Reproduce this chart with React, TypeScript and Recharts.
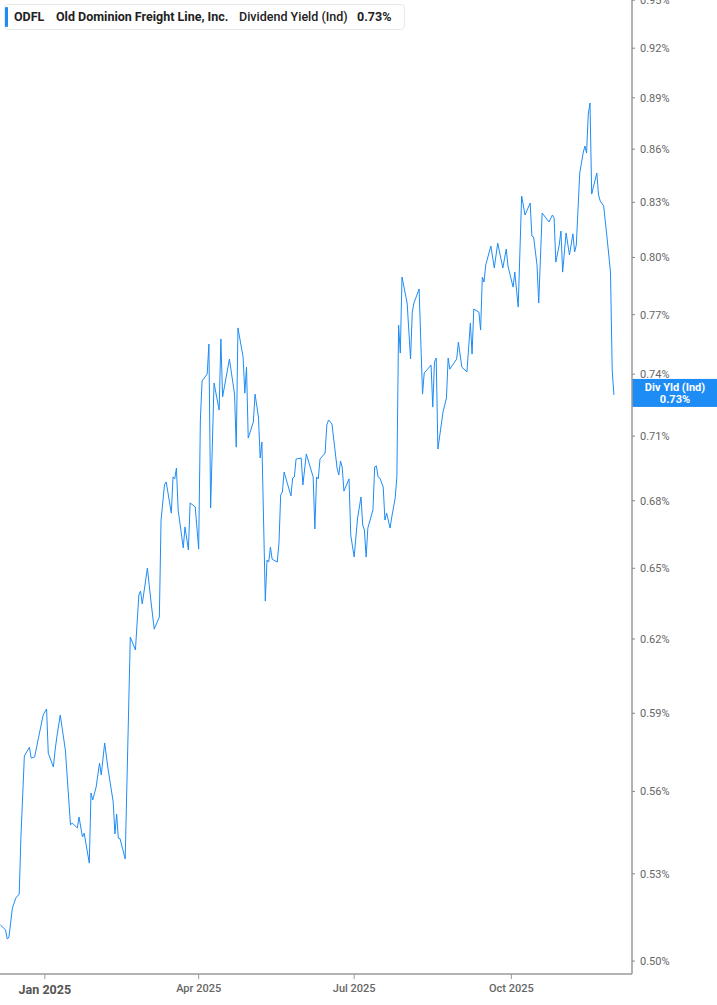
import React from 'react';
import { LineChart, Line, XAxis, YAxis, ReferenceLine } from 'recharts';

const dates: string[] = [
  '2024-12-06','2024-12-09','2024-12-10','2024-12-11','2024-12-13','2024-12-15','2024-12-17','2024-12-18','2024-12-20','2024-12-23',
  '2024-12-24','2024-12-26','2024-12-28','2024-12-31','2025-01-02','2025-01-03','2025-01-06','2025-01-07','2025-01-08','2025-01-10',
  '2025-01-13','2025-01-16','2025-01-17','2025-01-20','2025-01-21','2025-01-23','2025-01-24','2025-01-27','2025-01-28','2025-01-29',
  '2025-01-31','2025-02-02','2025-02-03','2025-02-05','2025-02-07','2025-02-10','2025-02-11','2025-02-12','2025-02-13','2025-02-14',
  '2025-02-17','2025-02-20','2025-02-23','2025-02-25','2025-02-26','2025-02-27','2025-03-02','2025-03-04','2025-03-06','2025-03-09',
  '2025-03-10','2025-03-12','2025-03-13','2025-03-16','2025-03-17','2025-03-18','2025-03-19','2025-03-20','2025-03-23','2025-03-24',
  '2025-03-26','2025-03-27','2025-03-30','2025-04-01','2025-04-02','2025-04-03','2025-04-06','2025-04-07','2025-04-08','2025-04-10',
  '2025-04-13','2025-04-14','2025-04-15','2025-04-19','2025-04-22','2025-04-23','2025-04-24','2025-04-27','2025-04-28','2025-04-29',
  '2025-04-30','2025-05-03','2025-05-04','2025-05-06','2025-05-07','2025-05-08','2025-05-10','2025-05-11','2025-05-12','2025-05-13',
  '2025-05-14','2025-05-17','2025-05-18','2025-05-19','2025-05-20','2025-05-21','2025-05-25','2025-05-26','2025-05-27','2025-05-28',
  '2025-05-31','2025-06-01','2025-06-03','2025-06-07','2025-06-08','2025-06-09','2025-06-10','2025-06-11','2025-06-14','2025-06-15',
  '2025-06-16','2025-06-18','2025-06-21','2025-06-22','2025-06-23','2025-06-24','2025-06-25','2025-06-28','2025-06-29','2025-07-01',
  '2025-07-03','2025-07-05','2025-07-06','2025-07-07','2025-07-08','2025-07-09','2025-07-12','2025-07-13','2025-07-14','2025-07-15',
  '2025-07-16','2025-07-18','2025-07-19','2025-07-20','2025-07-22','2025-07-23','2025-07-25','2025-07-26','2025-07-27','2025-07-28',
  '2025-07-29','2025-08-01','2025-08-03','2025-08-04','2025-08-05','2025-08-08','2025-08-10','2025-08-11','2025-08-13','2025-08-15',
  '2025-08-16','2025-08-17','2025-08-18','2025-08-19','2025-08-22','2025-08-23','2025-08-24','2025-08-25','2025-08-26','2025-08-30',
  '2025-08-31','2025-09-02','2025-09-05','2025-09-07','2025-09-08','2025-09-09','2025-09-12','2025-09-13','2025-09-14','2025-09-15',
  '2025-09-16','2025-09-19','2025-09-21','2025-09-23','2025-09-26','2025-09-28','2025-09-29','2025-10-02','2025-10-03','2025-10-05',
  '2025-10-07','2025-10-09','2025-10-12','2025-10-13','2025-10-14','2025-10-16','2025-10-17','2025-10-19','2025-10-23','2025-10-25',
  '2025-10-26','2025-10-27','2025-10-29','2025-10-30','2025-10-31','2025-11-02','2025-11-04','2025-11-06','2025-11-07','2025-11-08',
  '2025-11-10','2025-11-12','2025-11-13','2025-11-14','2025-11-15','2025-11-16','2025-11-17','2025-11-20','2025-11-21','2025-11-22',
  '2025-11-24','2025-11-26','2025-11-28','2025-11-29','2025-11-30',
];

const yields: number[] = [
  0.5122,0.5105,0.5074,0.5081,0.5180,0.5215,0.5229,0.5432,0.5734,0.5768,
  0.5726,0.5730,0.5795,0.5893,0.5917,0.5745,0.5692,0.5757,0.5807,0.5893,
  0.5757,0.5476,0.5483,0.5465,0.5505,0.5432,0.5446,0.5338,0.5594,0.5568,
  0.5616,0.5707,0.5662,0.5784,0.5684,0.5560,0.5443,0.5516,0.5428,0.5426,
  0.5353,0.6208,0.6155,0.6385,0.6402,0.6347,0.6501,0.6364,0.6241,0.6292,
  0.6713,0.6872,0.6886,0.6744,0.6909,0.6900,0.6950,0.6758,0.6589,0.6682,
  0.6580,0.6790,0.6772,0.6584,0.7177,0.7366,0.7401,0.7550,0.6767,0.7356,
  0.7225,0.7576,0.7288,0.7475,0.7302,0.7048,0.7632,0.7485,0.7307,0.7435,
  0.7091,0.7167,0.7302,0.7191,0.6997,0.7072,0.6359,0.6536,0.6527,0.6593,
  0.6540,0.6527,0.6611,0.6826,0.6840,0.6932,0.6822,0.6904,0.6909,0.6992,
  0.6997,0.6872,0.7016,0.6909,0.6673,0.6909,0.6900,0.6992,0.7020,0.7153,
  0.7177,0.7158,0.6950,0.6918,0.6983,0.6955,0.6844,0.6900,0.6646,0.6549,
  0.6722,0.6817,0.6691,0.6668,0.6549,0.6677,0.6758,0.6955,0.6960,0.6909,
  0.6904,0.6863,0.6713,0.6744,0.6677,0.6726,0.6812,0.6909,0.7647,0.7505,
  0.7896,0.7760,0.7475,0.7713,0.7760,0.7833,0.7302,0.7406,0.7425,0.7445,
  0.7239,0.7460,0.7480,0.7039,0.7215,0.7249,0.7283,0.7480,0.7425,0.7475,
  0.7560,0.7435,0.7411,0.7657,0.7500,0.7729,0.7713,0.7621,0.7896,0.7870,
  0.7960,0.8061,0.7944,0.8077,0.7944,0.8045,0.7954,0.7843,0.7922,0.7739,
  0.8335,0.8230,0.8296,0.8115,0.8110,0.7960,0.7760,0.8241,0.8192,0.8230,
  0.8214,0.7975,0.8067,0.8142,0.7922,0.8132,0.8013,0.8127,0.8029,0.8067,
  0.8464,0.8578,0.8618,0.8578,0.8804,0.8869,0.8346,0.8464,0.8341,0.8307,
  0.8280,0.8104,0.7922,0.7420,0.7298,
];

const yTicks: number[] = [0.5, 0.53, 0.56, 0.59, 0.62, 0.65, 0.68, 0.71, 0.74, 0.77, 0.8, 0.83, 0.86, 0.89, 0.92, 0.95];
const xTickDates: string[] = ['2025-01-01', '2025-04-01', '2025-07-01', '2025-10-01'];
const xTickLabels: string[] = ['Jan 2025', 'Apr 2025', 'Jul 2025', 'Oct 2025'];

const ticker = 'ODFL';
const company = 'Old Dominion Freight Line, Inc.';
const metric = 'Dividend Yield (Ind)';
const tagTitle = 'Div Yld (Ind)';

const toTs = (s: string) => {
  const [y, m, d] = s.split('-').map(Number);
  return Date.UTC(y, m - 1, d);
};

const data = dates.map((d, i) => ({ t: toTs(d), v: yields[i] }));
const xTickTs = xTickDates.map(toTs);
const lastValue = yields[yields.length - 1];
const fmt = (v: number) => v.toFixed(2) + '%';

const BLUE = '#1e8cf5';
const FONT = 'Roboto, "Noto Sans", sans-serif';
const HOUR = 3600 * 1000;

const XTick = (props: any) => {
  const { x, y, payload } = props;
  const i = xTickTs.indexOf(payload.value);
  const first = i === 0;
  return (
    <text
      x={x}
      y={y}
      dy={first ? 13 : 11}
      textAnchor="middle"
      fontFamily={FONT}
      fontSize={first ? 12.5 : 11}
      fontWeight={first ? 700 : 500}
      fill={first ? '#555' : '#666'}
    >
      {xTickLabels[i]}
    </text>
  );
};

const ValueTag = (props: any) => {
  const vb = props.viewBox || {};
  const left = (vb.x || 0) + (vb.width || 0);
  const cy = vb.y || 0;
  return (
    <g>
      <rect x={left} y={cy - 16} width={85} height={28} fill={BLUE} />
      <text x={left + 43} y={cy - 4} textAnchor="middle" fontFamily={FONT} fontSize={11} fontWeight={700} fill="#fff">
        {tagTitle}
      </text>
      <text x={left + 43} y={cy + 8} textAnchor="middle" fontFamily={FONT} fontSize={11} fontWeight={700} fill="#fff">
        {fmt(lastValue)}
      </text>
    </g>
  );
};

export default function App() {
  return (
    <div style={{ position: 'absolute', left: 0, top: 0, width: 717, height: 1005, background: '#fff', fontFamily: FONT }}>
      <LineChart width={717} height={1005} data={data} margin={{ top: 0, right: 0, bottom: 0, left: 0 }}>
        <XAxis
          dataKey="t"
          type="number"
          scale="time"
          domain={[toTs('2024-12-06') - 6 * HOUR, toTs('2025-12-10') + 14 * HOUR]}
          allowDataOverflow
          ticks={xTickTs}
          tick={<XTick />}
          tickSize={5}
          tickMargin={2}
          height={31}
          axisLine={{ stroke: '#b3b3b3', strokeWidth: 2 }}
          tickLine={{ stroke: '#999' }}
          interval={0}
        />
        <YAxis
          orientation="right"
          type="number"
          scale="log"
          domain={[0.4957, 0.9501]}
          allowDataOverflow
          ticks={yTicks}
          tickFormatter={fmt}
          width={85}
          tickSize={3}
          tickMargin={5}
          interval={0}
          axisLine={{ stroke: '#999', strokeWidth: 1.5 }}
          tickLine={{ stroke: '#888' }}
          tick={{ fontSize: 11, fill: '#666', fontFamily: FONT, textAnchor: 'start' }}
        />
        <ReferenceLine y={lastValue} stroke="none" label={<ValueTag />} />
        <Line
          type="linear"
          dataKey="v"
          stroke={BLUE}
          strokeWidth={1}
          dot={false}
          activeDot={false}
          isAnimationActive={false}
        />
      </LineChart>
      <div
        style={{
          position: 'absolute',
          left: 4,
          top: 4,
          width: 401,
          height: 26,
          border: '1px solid #e8e8e8',
          borderRadius: 4,
          background: '#fff',
          boxSizing: 'border-box',
          fontSize: 12.5,
          color: '#222',
          lineHeight: '24px',
          whiteSpace: 'nowrap',
        }}
      >
        <div style={{ position: 'absolute', left: 0, top: 2, width: 3, height: 20, background: BLUE, borderRadius: 1 }} />
        <span style={{ position: 'absolute', left: 9, fontWeight: 700 }}>{ticker}</span>
        <span style={{ position: 'absolute', left: 51, fontWeight: 700 }}>{company}</span>
        <span style={{ position: 'absolute', left: 234, fontWeight: 500 }}>{metric}</span>
        <span style={{ position: 'absolute', left: 352, fontWeight: 700 }}>{fmt(lastValue)}</span>
      </div>
    </div>
  );
}
